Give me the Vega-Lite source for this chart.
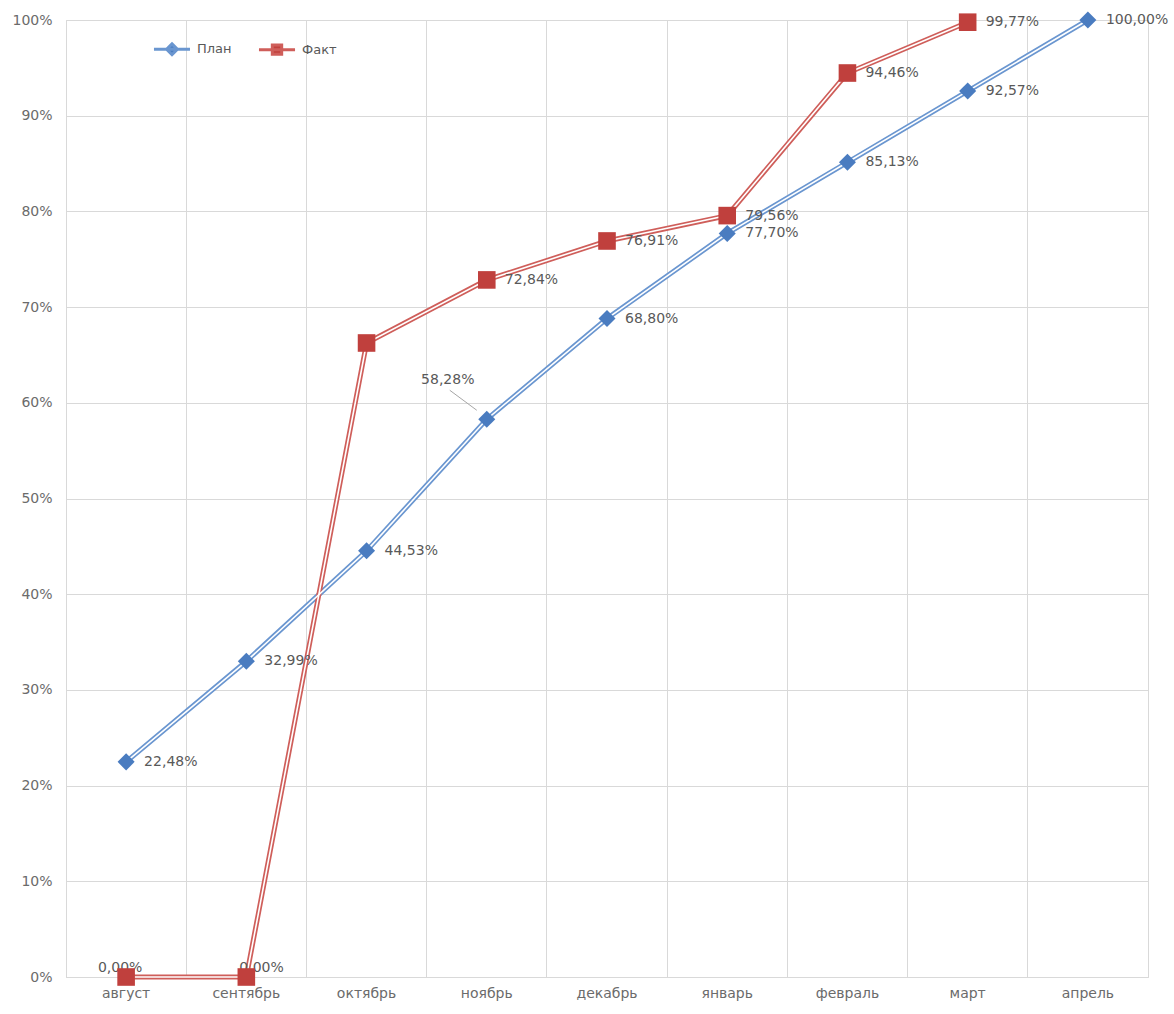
{
  "$schema": "https://vega.github.io/schema/vega-lite/v6.json",
  "width": 1082,
  "height": 957,
  "autosize": {"type": "none"},
  "padding": {"left": 66, "top": 20, "right": 26, "bottom": 37},
  "background": "white",
  "config": {
    "locale": {"number": {"decimal": ",", "thousands": " ", "grouping": [3], "currency": ["", ""]}},
    "view": {"stroke": "#D9D9D9", "strokeWidth": 1},
    "font": "DejaVu Sans"
  },
  "data": {
    "values": [
      {"month": "август", "series": "План", "value": 0.2248},
      {"month": "сентябрь", "series": "План", "value": 0.3299},
      {"month": "октябрь", "series": "План", "value": 0.4453},
      {"month": "ноябрь", "series": "План", "value": 0.5828},
      {"month": "декабрь", "series": "План", "value": 0.6880},
      {"month": "январь", "series": "План", "value": 0.7770},
      {"month": "февраль", "series": "План", "value": 0.8513},
      {"month": "март", "series": "План", "value": 0.9257},
      {"month": "апрель", "series": "План", "value": 1.0},
      {"month": "август", "series": "Факт", "value": 0},
      {"month": "сентябрь", "series": "Факт", "value": 0},
      {"month": "октябрь", "series": "Факт", "value": 0.6625},
      {"month": "ноябрь", "series": "Факт", "value": 0.7284},
      {"month": "декабрь", "series": "Факт", "value": 0.7691},
      {"month": "январь", "series": "Факт", "value": 0.7956},
      {"month": "февраль", "series": "Факт", "value": 0.9446},
      {"month": "март", "series": "Факт", "value": 0.9977}
    ]
  },
  "encoding": {
    "x": {
      "field": "month", "type": "ordinal", "bandPosition": 0.5,
      "sort": ["август", "сентябрь", "октябрь", "ноябрь", "декабрь", "январь", "февраль", "март", "апрель"],
      "scale": {"type": "band", "paddingInner": 0, "paddingOuter": 0},
      "axis": {
        "title": null, "bandPosition": 0, "labelOffset": 0, "labelAngle": 0,
        "grid": true, "gridColor": "#D9D9D9", "gridWidth": 1,
        "ticks": false, "domain": true, "domainColor": "#D9D9D9",
        "labelColor": "#6b6b6b", "labelFontSize": 14, "labelFont": "DejaVu Sans", "labelPadding": 9
      }
    },
    "y": {
      "field": "value", "type": "quantitative",
      "scale": {"domain": [0, 1], "nice": false},
      "axis": {
        "title": null, "format": ".0%", "values": [0, 0.1, 0.2, 0.3, 0.4, 0.5, 0.6, 0.7, 0.8, 0.9, 1],
        "grid": true, "gridColor": "#D9D9D9", "ticks": false, "domain": false,
        "labelColor": "#6b6b6b", "labelFontSize": 14, "labelFont": "DejaVu Sans", "labelPadding": 14
      }
    }
  },
  "layer": [
    {
      "mark": {"type": "line", "strokeWidth": 5},
      "encoding": {
        "color": {"field": "series", "type": "nominal",
          "scale": {"domain": ["План", "Факт"], "range": ["#6A96D0", "#CF5E5A"]},
          "legend": {
            "title": null, "orient": "none", "legendX": 86, "legendY": 9, "direction": "horizontal",
            "symbolType": "M-1,0L1,0M0,-0.3L0.3,0L0,0.3L-0.3,0Z",
            "symbolSize": 1300, "labelFontSize": 13, "labelColor": "#595959", "labelFont": "DejaVu Sans",
            "labelOffset": 5, "columnPadding": 20, "symbolStrokeWidth": 3,
            "encode": {
              "symbols": {
                "update": {
                  "fill": {"signal": "datum.value == 'План' ? '#4A7CC0' : '#C0403D'"},
                  "shape": {"signal": "datum.value == 'План' ? 'M-1,0L1,0M0,-0.3L0.3,0L0,0.3L-0.3,0Z' : 'M-1,0L1,0M-0.26,-0.26L0.26,-0.26L0.26,0.26L-0.26,0.26Z'"}
                }
              }
            }
          }
        }
      }
    },
    {
      "mark": {"type": "line", "strokeWidth": 1.6, "color": "white"},
      "encoding": {"detail": {"field": "series", "type": "nominal"}}
    },
    {
      "transform": [{"filter": "!(datum.series == 'Факт' && (datum.month == 'август' || datum.month == 'сентябрь' || datum.month == 'октябрь')) && !(datum.series == 'План' && datum.month == 'ноябрь')"}],
      "mark": {"type": "text", "align": "left", "baseline": "middle", "dx": 18, "fontSize": 14, "color": "#595959", "font": "DejaVu Sans"},
      "encoding": {"text": {"field": "value", "type": "quantitative", "format": ".2%"}}
    },
    {
      "transform": [{"filter": "datum.series == 'План' && datum.month == 'ноябрь'"}],
      "mark": {"type": "text", "align": "center", "baseline": "middle", "dx": -39, "dy": -39, "fontSize": 14, "color": "#595959", "font": "DejaVu Sans"},
      "encoding": {"text": {"field": "value", "type": "quantitative", "format": ".2%"}}
    },
    {
      "transform": [{"filter": "datum.series == 'План' && datum.month == 'ноябрь'"}],
      "mark": {"type": "rule", "color": "#A6A6A6", "strokeWidth": 1, "xOffset": -10, "yOffset": -9, "x2Offset": -37, "y2Offset": -29},
      "encoding": {"x2": {"field": "month"}, "y2": {"field": "value"}}
    },
    {
      "transform": [{"filter": "datum.series == 'Факт' && datum.month == 'август'"}],
      "mark": {"type": "text", "align": "center", "baseline": "middle", "dx": -6, "dy": -9, "fontSize": 14, "color": "#595959", "font": "DejaVu Sans"},
      "encoding": {"text": {"field": "value", "type": "quantitative", "format": ".2%"}}
    },
    {
      "transform": [{"filter": "datum.series == 'Факт' && datum.month == 'сентябрь'"}],
      "mark": {"type": "text", "align": "left", "baseline": "middle", "dx": -7, "dy": -9, "fontSize": 14, "color": "#595959", "font": "DejaVu Sans"},
      "encoding": {"text": {"field": "value", "type": "quantitative", "format": ".2%"}}
    },
    {
      "transform": [{"filter": "datum.series == 'План'"}],
      "mark": {"type": "point", "shape": "diamond", "filled": true, "size": 290, "color": "#4A7CC0", "opacity": 1}
    },
    {
      "transform": [{"filter": "datum.series == 'Факт'"}],
      "mark": {"type": "point", "shape": "square", "filled": true, "size": 310, "color": "#C0403D", "opacity": 1}
    }
  ]
}
